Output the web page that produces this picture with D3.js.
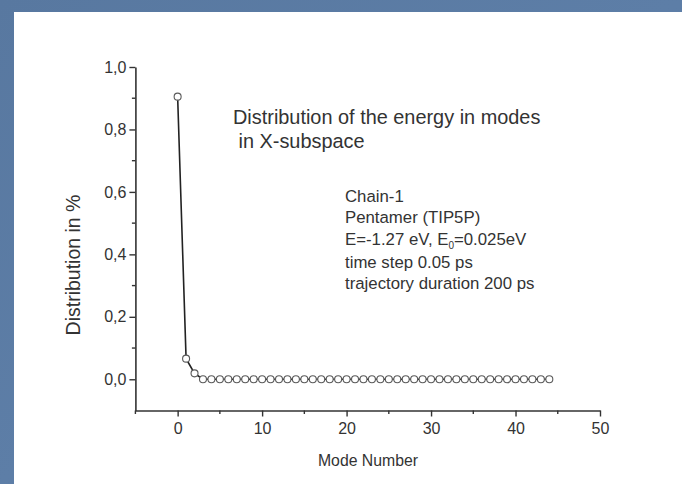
<!DOCTYPE html>
<html>
<head>
<meta charset="utf-8">
<script src="https://cdn.jsdelivr.net/npm/d3@7"></script>
<style>
  html, body { margin: 0; padding: 0; background: #5a7aa3; }
  svg { display: block; }
  text { font-family: "Liberation Sans", Arial, sans-serif; fill: #333; }
</style>
</head>
<body>
<svg id="chart" width="682" height="484"></svg>
<script>
// Mode numbers and the share of energy found in each mode
const modes = d3.range(0, 45);
const energyShare = [
  0.905, 0.066, 0.019,
  0, 0, 0, 0, 0, 0, 0, 0, 0, 0,
  0, 0, 0, 0, 0, 0, 0, 0, 0, 0,
  0, 0, 0, 0, 0, 0, 0, 0, 0, 0,
  0, 0, 0, 0, 0, 0, 0, 0, 0, 0,
  0, 0
];
const xMajorTicks = [0, 10, 20, 30, 40, 50];
const xMinorTicks = [-5, 5, 15, 25, 35, 45];
const yMajorTicks = [0, 0.2, 0.4, 0.6, 0.8, 1.0];
const yMinorTicks = [0.1, 0.3, 0.5, 0.7, 0.9];
const titleLines = ["Distribution of the energy in modes", " in X-subspace"];
const infoLines = ["Chain-1", "Pentamer (TIP5P)", null, "time step 0.05 ps", "trajectory duration 200 ps"];

const svg = d3.select("#chart");

// slide background with a soft blue gradient
const defs = svg.append("defs");
const grad = defs.append("linearGradient").attr("id", "bg").attr("x1", 0).attr("y1", 0).attr("x2", 1).attr("y2", 1);
grad.append("stop").attr("offset", "0%").attr("stop-color", "#5878a0");
grad.append("stop").attr("offset", "50%").attr("stop-color", "#5d7ea7");
grad.append("stop").attr("offset", "100%").attr("stop-color", "#56769e");
svg.append("rect").attr("width", 682).attr("height", 484).attr("fill", "url(#bg)");

// white panel holding the plot
svg.append("rect").attr("x", 14).attr("y", 12).attr("width", 668).attr("height", 472).attr("fill", "#fff");

const x = d3.scaleLinear().domain([-5, 50]).range([135.4, 600]);
const y = d3.scaleLinear().domain([-0.1, 1.0]).range([410.5, 67]);

const axisColor = "#333";

// x axis: major and minor ticks pointing down
const gx = svg.append("g").attr("transform", `translate(0,${y(-0.1)})`);
gx.call(d3.axisBottom(x).tickValues(xMajorTicks).tickSize(6).tickSizeOuter(0).tickPadding(6).tickFormat(d3.format("d")));
gx.append("g").selectAll("line").data(xMinorTicks).join("line")
  .attr("x1", d => x(d)).attr("x2", d => x(d)).attr("y1", 0).attr("y2", 3.5)
  .attr("stroke", axisColor).attr("stroke-width", 1.4);

// y axis: major and minor ticks pointing left
const commaFmt = d => d3.format(".1f")(d).replace(".", ",");
const gy = svg.append("g").attr("transform", `translate(${x(-5)},0)`);
gy.call(d3.axisLeft(y).tickValues(yMajorTicks).tickSize(6).tickSizeOuter(0).tickPadding(3).tickFormat(commaFmt));
gy.append("g").selectAll("line").data(yMinorTicks).join("line")
  .attr("y1", d => y(d)).attr("y2", d => y(d)).attr("x1", 0).attr("x2", -3.5)
  .attr("stroke", axisColor).attr("stroke-width", 1.4);

[gx, gy].forEach(g => {
  g.attr("font-size", 16).attr("font-family", "'Liberation Sans', Arial, sans-serif");
  g.select(".domain").attr("stroke", axisColor).attr("stroke-width", 1.6);
  g.selectAll(".tick line").attr("stroke", axisColor).attr("stroke-width", 1.4);
  g.selectAll(".tick text").attr("font-size", 16).attr("fill", "#3a3a3a");
});

// axis titles
svg.append("text").attr("x", 368).attr("y", 466).attr("text-anchor", "middle")
  .attr("font-size", 15.8).text("Mode Number");
svg.append("text").attr("transform", `translate(80,265) rotate(-90)`).attr("text-anchor", "middle")
  .attr("font-size", 19.5).text("Distribution in %");

// line joining the modes, then open circle markers on top
const pts = modes.map((m, i) => [m, energyShare[i]]);
svg.append("path").datum(pts)
  .attr("d", d3.line().x(d => x(d[0])).y(d => y(d[1])))
  .attr("fill", "none").attr("stroke", "#222").attr("stroke-width", 1.6);
svg.append("g").selectAll("circle").data(pts).join("circle")
  .attr("cx", d => x(d[0])).attr("cy", d => y(d[1])).attr("r", 3.5)
  .attr("fill", "#fff").attr("stroke", "#5a5a5a").attr("stroke-width", 1.1);

// headline
const title = svg.append("text").attr("x", 233).attr("font-size", 19.9);
titleLines.forEach((t, i) => {
  title.append("tspan").attr("x", 233).attr("y", 124 + i * 24).attr("xml:space", "preserve").text(t);
});

// run parameters
const info = svg.append("g");
const infoY = [202, 223, 245, 268, 289];
infoLines.forEach((t, i) => {
  const tx = info.append("text").attr("x", 345).attr("y", infoY[i]).attr("font-size", 16.8);
  if (t === null) {
    tx.append("tspan").text("E=-1.27 eV, E");
    tx.append("tspan").attr("font-size", 10).attr("dy", 4).text("0");
    tx.append("tspan").attr("dy", -4).text("=0.025eV");
  } else {
    tx.text(t);
  }
});
</script>
</body>
</html>
